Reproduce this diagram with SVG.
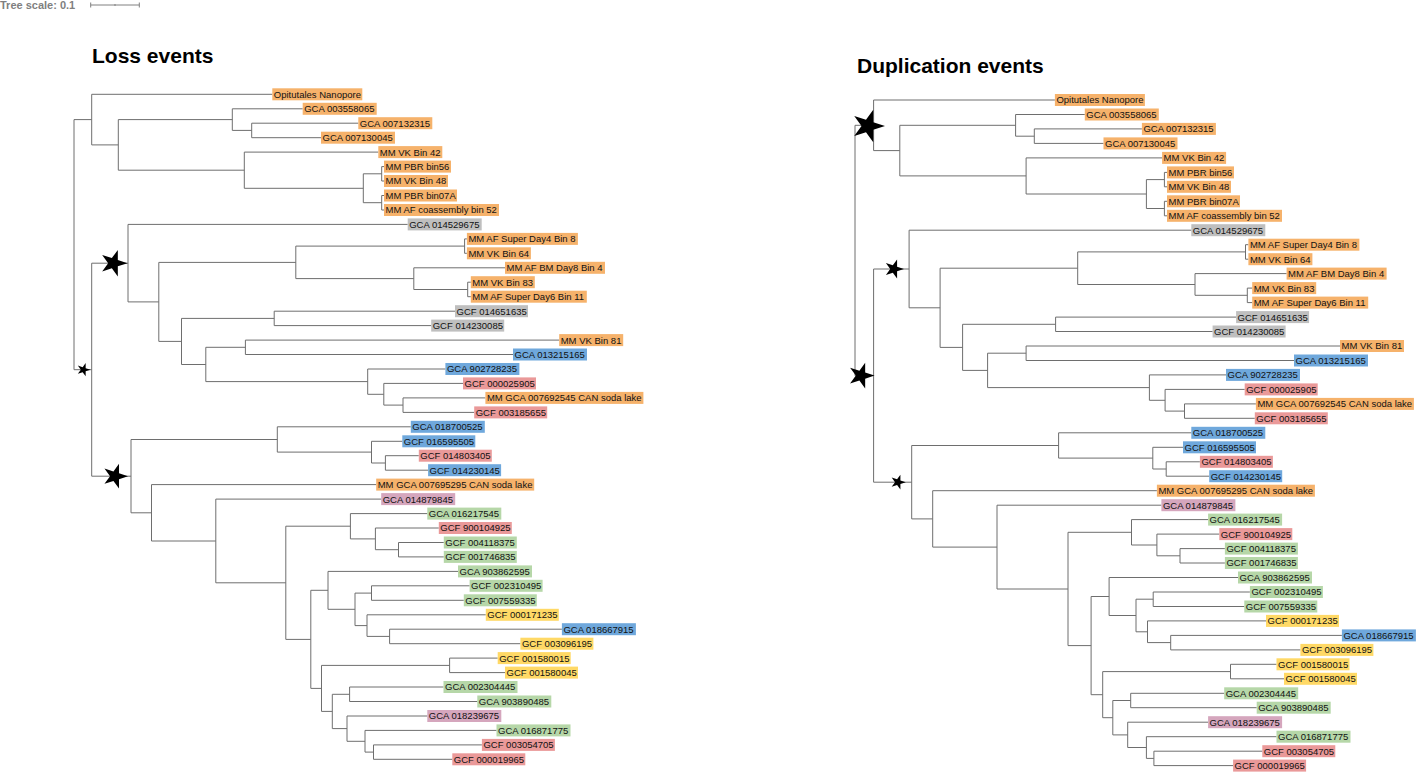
<svg xmlns="http://www.w3.org/2000/svg" xmlns:xlink="http://www.w3.org/1999/xlink" width="1423" height="772" viewBox="0 0 1423 772">
<defs>
<style>
.br{fill:none;stroke:#6e6e6e;stroke-width:1}
.lf text{font-family:"Liberation Sans",Arial,sans-serif;font-size:9.5px;fill:#111}
.o rect{fill:#f6b26b}.g rect{fill:#bfbfbf}.b rect{fill:#6fa8dc}.r rect{fill:#ea9999}.gr rect{fill:#b6d7a8}.y rect{fill:#ffd966}.p rect{fill:#d5a6bd}
.title{font-family:"Liberation Sans",Arial,sans-serif;font-size:21px;font-weight:bold;fill:#000}
.star{fill:#000}
</style>
<path id="star" d="M10,0 L3.09,2.25 L3.09,9.51 L-1.18,3.63 L-8.09,5.88 L-3.82,0 L-8.09,-5.88 L-1.18,-3.63 L3.09,-9.51 L3.09,-2.25 Z"/>
</defs>
<rect width="1423" height="772" fill="#fff"/>
<g id="scale">
<text x="0" y="8.5" font-family="Liberation Sans, Arial, sans-serif" font-size="11" font-weight="bold" fill="#808080">Tree scale: 0.1</text>
<path d="M90.7,5H139.3 M90.7,2.5V7.5 M139.3,2.5V7.5 M115,4V6" fill="none" stroke="#808080" stroke-width="1"/>
</g>
<text class="title" x="92" y="63">Loss events</text>
<text class="title" x="857" y="73">Duplication events</text>

<g id="left-connectors" class="br">
<path d="M74,119.6V369.7 M74,119.6H91.7 M74,369.7H91.7
M91.7,94.3V144.9 M91.7,94.3H272.3 M91.7,144.9H118.3
M118.3,119.6V170.2 M118.3,119.6H232.3 M118.3,170.2H244.3
M232.3,108.8V130.4 M232.3,108.8H302.7 M232.3,130.4H251.7
M251.7,123.2V137.7 M251.7,123.2H358.3 M251.7,137.7H321
M244.3,152.1V188.3 M244.3,152.1H378.3 M244.3,188.3H363.3
M363.3,173.8V202.7 M363.3,173.8H381.7 M363.3,202.7H381.7
M381.7,166.6V181 M381.7,166.6H384 M381.7,181H384
M381.7,195.5V210 M381.7,195.5H384 M381.7,210H384
M91.7,263.2V476.2 M91.7,263.2H128 M91.7,476.2H131
M128,224.4V301.9 M128,224.4H407.7 M128,301.9H158.8
M158.8,262.4V341.4 M158.8,262.4H295.8 M158.8,341.4H181.5
M295.8,246.1V278.6 M295.8,246.1H464.6 M295.8,278.6H413.8
M464.6,238.9V253.3 M464.6,238.9H466.9 M464.6,253.3H466.9
M413.8,267.8V289.5 M413.8,267.8H505 M413.8,289.5H467.7
M467.7,282.2V296.7 M467.7,282.2H470.8 M467.7,296.7H470.8
M181.5,318.4V364.5 M181.5,318.4H274.2 M181.5,364.5H205.8
M274.2,311.2V325.6 M274.2,311.2H455 M274.2,325.6H431.2
M205.8,347.3V381.6 M205.8,347.3H245.4 M205.8,381.6H367.7
M245.4,340.1V354.5 M245.4,340.1H559.2 M245.4,354.5H513
M367.7,369V394.3 M367.7,369H445.4 M367.7,394.3H383.8
M383.8,383.4V405.1 M383.8,383.4H463 M383.8,405.1H403
M403,397.9V412.4 M403,397.9H485.4 M403,412.4H474.2
M131,439.5V512.8 M131,439.5H277.3 M131,512.8H151.5
M277.3,426.8V452.1 M277.3,426.8H410.8 M277.3,452.1H371.5
M371.5,441.3V463 M371.5,441.3H402.3 M371.5,463H385.4
M385.4,455.7V470.2 M385.4,455.7H418.8 M385.4,470.2H428.1
M151.5,484.6V541 M151.5,484.6H376.2 M151.5,541H215.8
M215.8,499.1V582.8 M215.8,499.1H381.2 M215.8,582.8H285.8
M285.8,526.2V639.4 M285.8,526.2H350.4 M285.8,639.4H310.8
M350.4,513.6V538.9 M350.4,513.6H427.3 M350.4,538.9H375.4
M375.4,528V549.7 M375.4,528H438.8 M375.4,549.7H398.5
M398.5,542.5V556.9 M398.5,542.5H443.8 M398.5,556.9H443.8
M310.8,590.3V688.4 M310.8,590.3H328 M310.8,688.4H321.5
M328,571.4V609.3 M328,571.4H458 M328,609.3H355
M355,593.1V625.6 M355,593.1H371.5 M355,625.6H367
M371.5,585.8V600.3 M371.5,585.8H469.6 M371.5,600.3H463.8
M367,614.8V636.4 M367,614.8H485.8 M367,636.4H389.6
M389.6,629.2V643.7 M389.6,629.2H561.9 M389.6,643.7H520.4
M321.5,665.4V711.4 M321.5,665.4H449.6 M321.5,711.4H332.3
M449.6,658.1V672.6 M449.6,658.1H497.7 M449.6,672.6H505
M332.3,694.3V728.6 M332.3,694.3H349.6 M332.3,728.6H347
M349.6,687V701.5 M349.6,687H443.5 M349.6,701.5H477.3
M347,716V741.3 M347,716H427.3 M347,741.3H365
M365,730.4V752.1 M365,730.4H496.5 M365,752.1H373.5
M373.5,744.9V759.3 M373.5,744.9H481.9 M373.5,759.3H452.3"/>
</g>

<g id="right-connectors" class="br">
<path d="M855,125.3V375.6 M855,125.3H873.6 M855,375.6H873.6
M873.6,100V150.6 M873.6,100H1054.9 M873.6,150.6H899.8
M899.8,125.3V175.9 M899.8,125.3H1015.6 M899.8,175.9H1026.1
M1015.6,114.5V136.2 M1015.6,114.5H1084.8 M1015.6,136.2H1034.3
M1034.3,128.9V143.4 M1034.3,128.9H1141.9 M1034.3,143.4H1103.5
M1026.1,157.9V194 M1026.1,157.9H1162.1 M1026.1,194H1146.4
M1146.4,179.6V208.5 M1146.4,179.6H1164.4 M1146.4,208.5H1164.4
M1164.4,172.4V186.8 M1164.4,172.4H1167 M1164.4,186.8H1167
M1164.4,201.3V215.8 M1164.4,201.3H1167 M1164.4,215.8H1167
M873.6,269V482.2 M873.6,269H909.1 M873.6,482.2H911.7
M909.1,230.2V307.8 M909.1,230.2H1191.3 M909.1,307.8H940.1
M940.1,268.2V347.4 M940.1,268.2H1077.7 M940.1,347.4H962.6
M1077.7,251.9V284.5 M1077.7,251.9H1245.5 M1077.7,284.5H1195
M1245.5,244.7V259.2 M1245.5,244.7H1248.4 M1245.5,259.2H1248.4
M1195,273.6V295.3 M1195,273.6H1286.6 M1195,295.3H1247.3
M1247.3,288.1V302.6 M1247.3,288.1H1252.2 M1247.3,302.6H1252.2
M962.6,324.3V370.4 M962.6,324.3H1055.6 M962.6,370.4H987.6
M1055.6,317.1V331.5 M1055.6,317.1H1236.1 M1055.6,331.5H1212.6
M987.6,353.2V387.6 M987.6,353.2H1026.1 M987.6,387.6H1149.4
M1026.1,346V360.5 M1026.1,346H1340 M1026.1,360.5H1294
M1149.4,374.9V400.3 M1149.4,374.9H1226 M1149.4,400.3H1165.1
M1165.1,389.4V411.1 M1165.1,389.4H1244.7 M1165.1,411.1H1184.5
M1184.5,403.9V418.3 M1184.5,403.9H1255.9 M1184.5,418.3H1254.8
M911.7,445.5V518.9 M911.7,445.5H1058.6 M911.7,518.9H932.7
M1058.6,432.8V458.1 M1058.6,432.8H1191.3 M1058.6,458.1H1152.8
M1152.8,447.3V469 M1152.8,447.3H1183 M1152.8,469H1166.2
M1166.2,461.8V476.2 M1166.2,461.8H1199.9 M1166.2,476.2H1209.2
M932.7,490.7V547.1 M932.7,490.7H1156.9 M932.7,547.1H997
M997,505.2V589 M997,505.2H1161.4 M997,589H1068
M1068,532.3V645.6 M1068,532.3H1131.5 M1068,645.6H1091.1
M1131.5,519.6V545 M1131.5,519.6H1208.1 M1131.5,545H1156.9
M1156.9,534.1V555.8 M1156.9,534.1H1219.3 M1156.9,555.8H1180
M1180,548.6V563 M1180,548.6H1224.9 M1180,563H1224.9
M1091.1,596.5V694.7 M1091.1,596.5H1109.1 M1091.1,694.7H1102.7
M1109.1,577.5V615.5 M1109.1,577.5H1238 M1109.1,615.5H1136
M1136,599.2V631.8 M1136,599.2H1153.2 M1136,631.8H1147.5
M1153.2,592V606.5 M1153.2,592H1249.9 M1153.2,606.5H1244.3
M1147.5,620.9V642.6 M1147.5,620.9H1266 M1147.5,642.6H1170.7
M1170.7,635.4V649.9 M1170.7,635.4H1341.9 M1170.7,649.9H1300.4
M1102.7,671.6V717.7 M1102.7,671.6H1230.5 M1102.7,717.7H1112.8
M1230.5,664.3V678.8 M1230.5,664.3H1276.5 M1230.5,678.8H1284
M1112.8,700.5V734.9 M1112.8,700.5H1130.7 M1112.8,734.9H1127.7
M1130.7,693.3V707.7 M1130.7,693.3H1224.2 M1130.7,707.7H1256.7
M1127.7,722.2V747.5 M1127.7,722.2H1208.1 M1127.7,747.5H1146.4
M1146.4,736.7V758.4 M1146.4,736.7H1276.5 M1146.4,758.4H1153.9
M1153.9,751.2V765.6 M1153.9,751.2H1262.3 M1153.9,765.6H1233.1"/>
</g>

<g id="left-event-markers" class="star">
<use xlink:href="#star" href="#star" transform="translate(113.5,263.2) scale(1.4)"/>
<use xlink:href="#star" href="#star" transform="translate(115,476.2) scale(1.3)"/>
<use xlink:href="#star" href="#star" transform="translate(83.5,369.7) scale(0.7)"/>
</g>
<g id="right-event-markers" class="star">
<use xlink:href="#star" href="#star" transform="translate(868,126) scale(1.7)"/>
<use xlink:href="#star" href="#star" transform="translate(861,375.6) scale(1.35)"/>
<use xlink:href="#star" href="#star" transform="translate(894,269) scale(1.0)"/>
<use xlink:href="#star" href="#star" transform="translate(898,482.2) scale(0.78)"/>
</g>

<g id="left-leaves">
<g id="L01" class="lf o" transform="translate(272.3,94.3)"><rect y="-6" width="90" height="12"/><text x="1.5" y="3.4">Opitutales Nanopore</text></g>
<g id="L02" class="lf o" transform="translate(302.7,108.8)"><rect y="-6" width="74" height="12"/><text x="1.5" y="3.4">GCA 003558065</text></g>
<g id="L03" class="lf o" transform="translate(358.3,123.2)"><rect y="-6" width="74" height="12"/><text x="1.5" y="3.4">GCA 007132315</text></g>
<g id="L04" class="lf o" transform="translate(321,137.7)"><rect y="-6" width="74" height="12"/><text x="1.5" y="3.4">GCA 007130045</text></g>
<g id="L05" class="lf o" transform="translate(378.3,152.1)"><rect y="-6" width="64" height="12"/><text x="1.5" y="3.4">MM VK Bin 42</text></g>
<g id="L06" class="lf o" transform="translate(384,166.6)"><rect y="-6" width="67" height="12"/><text x="1.5" y="3.4">MM PBR bin56</text></g>
<g id="L07" class="lf o" transform="translate(384,181)"><rect y="-6" width="64" height="12"/><text x="1.5" y="3.4">MM VK Bin 48</text></g>
<g id="L08" class="lf o" transform="translate(384,195.5)"><rect y="-6" width="73" height="12"/><text x="1.5" y="3.4">MM PBR bin07A</text></g>
<g id="L09" class="lf o" transform="translate(384,210)"><rect y="-6" width="115" height="12"/><text x="1.5" y="3.4">MM AF coassembly bin 52</text></g>
<g id="L10" class="lf g" transform="translate(407.7,224.4)"><rect y="-6" width="74" height="12"/><text x="1.5" y="3.4">GCA 014529675</text></g>
<g id="L11" class="lf o" transform="translate(466.9,238.9)"><rect y="-6" width="111" height="12"/><text x="1.5" y="3.4">MM AF Super Day4 Bin 8</text></g>
<g id="L12" class="lf o" transform="translate(466.9,253.3)"><rect y="-6" width="64" height="12"/><text x="1.5" y="3.4">MM VK Bin 64</text></g>
<g id="L13" class="lf o" transform="translate(505,267.8)"><rect y="-6" width="100" height="12"/><text x="1.5" y="3.4">MM AF BM Day8 Bin 4</text></g>
<g id="L14" class="lf o" transform="translate(470.8,282.2)"><rect y="-6" width="64" height="12"/><text x="1.5" y="3.4">MM VK Bin 83</text></g>
<g id="L15" class="lf o" transform="translate(470.8,296.7)"><rect y="-6" width="116" height="12"/><text x="1.5" y="3.4">MM AF Super Day6 Bin 11</text></g>
<g id="L16" class="lf g" transform="translate(455,311.2)"><rect y="-6" width="73" height="12"/><text x="1.5" y="3.4">GCF 014651635</text></g>
<g id="L17" class="lf g" transform="translate(431.2,325.6)"><rect y="-6" width="73" height="12"/><text x="1.5" y="3.4">GCF 014230085</text></g>
<g id="L18" class="lf o" transform="translate(559.2,340.1)"><rect y="-6" width="64" height="12"/><text x="1.5" y="3.4">MM VK Bin 81</text></g>
<g id="L19" class="lf b" transform="translate(513,354.5)"><rect y="-6" width="74" height="12"/><text x="1.5" y="3.4">GCA 013215165</text></g>
<g id="L20" class="lf b" transform="translate(445.4,369)"><rect y="-6" width="74" height="12"/><text x="1.5" y="3.4">GCA 902728235</text></g>
<g id="L21" class="lf r" transform="translate(463,383.4)"><rect y="-6" width="73" height="12"/><text x="1.5" y="3.4">GCF 000025905</text></g>
<g id="L22" class="lf o" transform="translate(485.4,397.9)"><rect y="-6" width="158" height="12"/><text x="1.5" y="3.4">MM GCA 007692545 CAN soda lake</text></g>
<g id="L23" class="lf r" transform="translate(474.2,412.4)"><rect y="-6" width="73" height="12"/><text x="1.5" y="3.4">GCF 003185655</text></g>
<g id="L24" class="lf b" transform="translate(410.8,426.8)"><rect y="-6" width="74" height="12"/><text x="1.5" y="3.4">GCA 018700525</text></g>
<g id="L25" class="lf b" transform="translate(402.3,441.3)"><rect y="-6" width="73" height="12"/><text x="1.5" y="3.4">GCF 016595505</text></g>
<g id="L26" class="lf r" transform="translate(418.8,455.7)"><rect y="-6" width="73" height="12"/><text x="1.5" y="3.4">GCF 014803405</text></g>
<g id="L27" class="lf b" transform="translate(428.1,470.2)"><rect y="-6" width="73" height="12"/><text x="1.5" y="3.4">GCF 014230145</text></g>
<g id="L28" class="lf o" transform="translate(376.2,484.6)"><rect y="-6" width="158" height="12"/><text x="1.5" y="3.4">MM GCA 007695295 CAN soda lake</text></g>
<g id="L29" class="lf p" transform="translate(381.2,499.1)"><rect y="-6" width="74" height="12"/><text x="1.5" y="3.4">GCA 014879845</text></g>
<g id="L30" class="lf gr" transform="translate(427.3,513.6)"><rect y="-6" width="74" height="12"/><text x="1.5" y="3.4">GCA 016217545</text></g>
<g id="L31" class="lf r" transform="translate(438.8,528)"><rect y="-6" width="73" height="12"/><text x="1.5" y="3.4">GCF 900104925</text></g>
<g id="L32" class="lf gr" transform="translate(443.8,542.5)"><rect y="-6" width="73" height="12"/><text x="1.5" y="3.4">GCF 004118375</text></g>
<g id="L33" class="lf gr" transform="translate(443.8,556.9)"><rect y="-6" width="73" height="12"/><text x="1.5" y="3.4">GCF 001746835</text></g>
<g id="L34" class="lf gr" transform="translate(458,571.4)"><rect y="-6" width="74" height="12"/><text x="1.5" y="3.4">GCA 903862595</text></g>
<g id="L35" class="lf gr" transform="translate(469.6,585.8)"><rect y="-6" width="73" height="12"/><text x="1.5" y="3.4">GCF 002310495</text></g>
<g id="L36" class="lf gr" transform="translate(463.8,600.3)"><rect y="-6" width="73" height="12"/><text x="1.5" y="3.4">GCF 007559335</text></g>
<g id="L37" class="lf y" transform="translate(485.8,614.8)"><rect y="-6" width="73" height="12"/><text x="1.5" y="3.4">GCF 000171235</text></g>
<g id="L38" class="lf b" transform="translate(561.9,629.2)"><rect y="-6" width="74" height="12"/><text x="1.5" y="3.4">GCA 018667915</text></g>
<g id="L39" class="lf y" transform="translate(520.4,643.7)"><rect y="-6" width="73" height="12"/><text x="1.5" y="3.4">GCF 003096195</text></g>
<g id="L40" class="lf y" transform="translate(497.7,658.1)"><rect y="-6" width="73" height="12"/><text x="1.5" y="3.4">GCF 001580015</text></g>
<g id="L41" class="lf y" transform="translate(505,672.6)"><rect y="-6" width="73" height="12"/><text x="1.5" y="3.4">GCF 001580045</text></g>
<g id="L42" class="lf gr" transform="translate(443.5,687)"><rect y="-6" width="74" height="12"/><text x="1.5" y="3.4">GCA 002304445</text></g>
<g id="L43" class="lf gr" transform="translate(477.3,701.5)"><rect y="-6" width="74" height="12"/><text x="1.5" y="3.4">GCA 903890485</text></g>
<g id="L44" class="lf p" transform="translate(427.3,716)"><rect y="-6" width="74" height="12"/><text x="1.5" y="3.4">GCA 018239675</text></g>
<g id="L45" class="lf gr" transform="translate(496.5,730.4)"><rect y="-6" width="74" height="12"/><text x="1.5" y="3.4">GCA 016871775</text></g>
<g id="L46" class="lf r" transform="translate(481.9,744.9)"><rect y="-6" width="73" height="12"/><text x="1.5" y="3.4">GCF 003054705</text></g>
<g id="L47" class="lf r" transform="translate(452.3,759.3)"><rect y="-6" width="73" height="12"/><text x="1.5" y="3.4">GCF 000019965</text></g>
</g>

<g id="right-leaves">
<g id="R01" class="lf o" transform="translate(1054.9,100)"><rect y="-6" width="90" height="12"/><text x="1.5" y="3.4">Opitutales Nanopore</text></g>
<g id="R02" class="lf o" transform="translate(1084.8,114.5)"><rect y="-6" width="74" height="12"/><text x="1.5" y="3.4">GCA 003558065</text></g>
<g id="R03" class="lf o" transform="translate(1141.9,128.9)"><rect y="-6" width="74" height="12"/><text x="1.5" y="3.4">GCA 007132315</text></g>
<g id="R04" class="lf o" transform="translate(1103.5,143.4)"><rect y="-6" width="74" height="12"/><text x="1.5" y="3.4">GCA 007130045</text></g>
<g id="R05" class="lf o" transform="translate(1162.1,157.9)"><rect y="-6" width="64" height="12"/><text x="1.5" y="3.4">MM VK Bin 42</text></g>
<g id="R06" class="lf o" transform="translate(1167,172.4)"><rect y="-6" width="67" height="12"/><text x="1.5" y="3.4">MM PBR bin56</text></g>
<g id="R07" class="lf o" transform="translate(1167,186.8)"><rect y="-6" width="64" height="12"/><text x="1.5" y="3.4">MM VK Bin 48</text></g>
<g id="R08" class="lf o" transform="translate(1167,201.3)"><rect y="-6" width="73" height="12"/><text x="1.5" y="3.4">MM PBR bin07A</text></g>
<g id="R09" class="lf o" transform="translate(1167,215.8)"><rect y="-6" width="115" height="12"/><text x="1.5" y="3.4">MM AF coassembly bin 52</text></g>
<g id="R10" class="lf g" transform="translate(1191.3,230.2)"><rect y="-6" width="74" height="12"/><text x="1.5" y="3.4">GCA 014529675</text></g>
<g id="R11" class="lf o" transform="translate(1248.4,244.7)"><rect y="-6" width="111" height="12"/><text x="1.5" y="3.4">MM AF Super Day4 Bin 8</text></g>
<g id="R12" class="lf o" transform="translate(1248.4,259.2)"><rect y="-6" width="64" height="12"/><text x="1.5" y="3.4">MM VK Bin 64</text></g>
<g id="R13" class="lf o" transform="translate(1286.6,273.6)"><rect y="-6" width="100" height="12"/><text x="1.5" y="3.4">MM AF BM Day8 Bin 4</text></g>
<g id="R14" class="lf o" transform="translate(1252.2,288.1)"><rect y="-6" width="64" height="12"/><text x="1.5" y="3.4">MM VK Bin 83</text></g>
<g id="R15" class="lf o" transform="translate(1252.2,302.6)"><rect y="-6" width="116" height="12"/><text x="1.5" y="3.4">MM AF Super Day6 Bin 11</text></g>
<g id="R16" class="lf g" transform="translate(1236.1,317.1)"><rect y="-6" width="73" height="12"/><text x="1.5" y="3.4">GCF 014651635</text></g>
<g id="R17" class="lf g" transform="translate(1212.6,331.5)"><rect y="-6" width="73" height="12"/><text x="1.5" y="3.4">GCF 014230085</text></g>
<g id="R18" class="lf o" transform="translate(1340,346)"><rect y="-6" width="64" height="12"/><text x="1.5" y="3.4">MM VK Bin 81</text></g>
<g id="R19" class="lf b" transform="translate(1294,360.5)"><rect y="-6" width="74" height="12"/><text x="1.5" y="3.4">GCA 013215165</text></g>
<g id="R20" class="lf b" transform="translate(1226,374.9)"><rect y="-6" width="74" height="12"/><text x="1.5" y="3.4">GCA 902728235</text></g>
<g id="R21" class="lf r" transform="translate(1244.7,389.4)"><rect y="-6" width="73" height="12"/><text x="1.5" y="3.4">GCF 000025905</text></g>
<g id="R22" class="lf o" transform="translate(1255.9,403.9)"><rect y="-6" width="158" height="12"/><text x="1.5" y="3.4">MM GCA 007692545 CAN soda lake</text></g>
<g id="R23" class="lf r" transform="translate(1254.8,418.3)"><rect y="-6" width="73" height="12"/><text x="1.5" y="3.4">GCF 003185655</text></g>
<g id="R24" class="lf b" transform="translate(1191.3,432.8)"><rect y="-6" width="74" height="12"/><text x="1.5" y="3.4">GCA 018700525</text></g>
<g id="R25" class="lf b" transform="translate(1183,447.3)"><rect y="-6" width="73" height="12"/><text x="1.5" y="3.4">GCF 016595505</text></g>
<g id="R26" class="lf r" transform="translate(1199.9,461.8)"><rect y="-6" width="73" height="12"/><text x="1.5" y="3.4">GCF 014803405</text></g>
<g id="R27" class="lf b" transform="translate(1209.2,476.2)"><rect y="-6" width="73" height="12"/><text x="1.5" y="3.4">GCF 014230145</text></g>
<g id="R28" class="lf o" transform="translate(1156.9,490.7)"><rect y="-6" width="158" height="12"/><text x="1.5" y="3.4">MM GCA 007695295 CAN soda lake</text></g>
<g id="R29" class="lf p" transform="translate(1161.4,505.2)"><rect y="-6" width="74" height="12"/><text x="1.5" y="3.4">GCA 014879845</text></g>
<g id="R30" class="lf gr" transform="translate(1208.1,519.6)"><rect y="-6" width="74" height="12"/><text x="1.5" y="3.4">GCA 016217545</text></g>
<g id="R31" class="lf r" transform="translate(1219.3,534.1)"><rect y="-6" width="73" height="12"/><text x="1.5" y="3.4">GCF 900104925</text></g>
<g id="R32" class="lf gr" transform="translate(1224.9,548.6)"><rect y="-6" width="73" height="12"/><text x="1.5" y="3.4">GCF 004118375</text></g>
<g id="R33" class="lf gr" transform="translate(1224.9,563)"><rect y="-6" width="73" height="12"/><text x="1.5" y="3.4">GCF 001746835</text></g>
<g id="R34" class="lf gr" transform="translate(1238,577.5)"><rect y="-6" width="74" height="12"/><text x="1.5" y="3.4">GCA 903862595</text></g>
<g id="R35" class="lf gr" transform="translate(1249.9,592)"><rect y="-6" width="73" height="12"/><text x="1.5" y="3.4">GCF 002310495</text></g>
<g id="R36" class="lf gr" transform="translate(1244.3,606.5)"><rect y="-6" width="73" height="12"/><text x="1.5" y="3.4">GCF 007559335</text></g>
<g id="R37" class="lf y" transform="translate(1266,620.9)"><rect y="-6" width="73" height="12"/><text x="1.5" y="3.4">GCF 000171235</text></g>
<g id="R38" class="lf b" transform="translate(1341.9,635.4)"><rect y="-6" width="74" height="12"/><text x="1.5" y="3.4">GCA 018667915</text></g>
<g id="R39" class="lf y" transform="translate(1300.4,649.9)"><rect y="-6" width="73" height="12"/><text x="1.5" y="3.4">GCF 003096195</text></g>
<g id="R40" class="lf y" transform="translate(1276.5,664.3)"><rect y="-6" width="73" height="12"/><text x="1.5" y="3.4">GCF 001580015</text></g>
<g id="R41" class="lf y" transform="translate(1284,678.8)"><rect y="-6" width="73" height="12"/><text x="1.5" y="3.4">GCF 001580045</text></g>
<g id="R42" class="lf gr" transform="translate(1224.2,693.3)"><rect y="-6" width="74" height="12"/><text x="1.5" y="3.4">GCA 002304445</text></g>
<g id="R43" class="lf gr" transform="translate(1256.7,707.7)"><rect y="-6" width="74" height="12"/><text x="1.5" y="3.4">GCA 903890485</text></g>
<g id="R44" class="lf p" transform="translate(1208.1,722.2)"><rect y="-6" width="74" height="12"/><text x="1.5" y="3.4">GCA 018239675</text></g>
<g id="R45" class="lf gr" transform="translate(1276.5,736.7)"><rect y="-6" width="74" height="12"/><text x="1.5" y="3.4">GCA 016871775</text></g>
<g id="R46" class="lf r" transform="translate(1262.3,751.2)"><rect y="-6" width="73" height="12"/><text x="1.5" y="3.4">GCF 003054705</text></g>
<g id="R47" class="lf r" transform="translate(1233.1,765.6)"><rect y="-6" width="73" height="12"/><text x="1.5" y="3.4">GCF 000019965</text></g>
</g>
</svg>
